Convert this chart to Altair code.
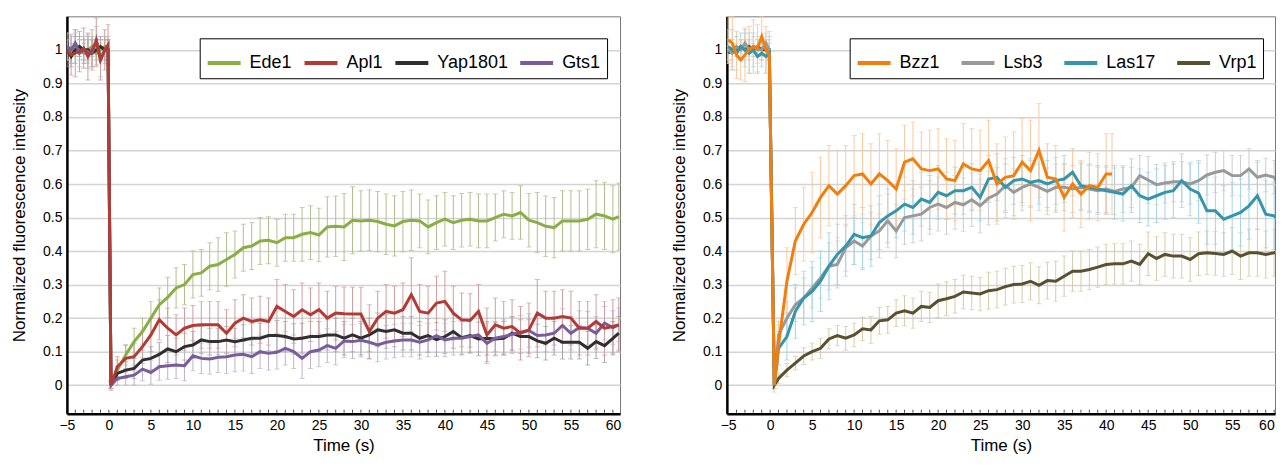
import altair as alt
import pandas as pd

# ---------------- time grids ----------------
PRE_T = [-5, -4.5, -4, -3.5, -3, -2.5, -2, -1.5, -1, -0.5, -0.1]
POST_T_LEFT = [0.25] + [float(i) for i in range(1, 61)] + [60.7]
POST_T_RIGHT = [0.5] + [float(i) for i in range(1, 61)] + [60.7]
POST_T_BZZ1 = [0.5] + [float(i) for i in range(1, 41)] + [40.7]

# ---------------- left panel ----------------
EDE1_PRE = [1.0, 0.99, 1.02, 1.0, 0.99, 1.0, 1.01, 0.99, 1.0, 1.01, 1.0]
EDE1_POST = [0, 0.045, 0.09, 0.13, 0.16, 0.2, 0.24, 0.262, 0.29, 0.3, 0.33,
             0.335, 0.355, 0.36, 0.375, 0.39, 0.41, 0.415, 0.43, 0.432, 0.425,
             0.44, 0.44, 0.45, 0.455, 0.448, 0.472, 0.474, 0.472, 0.492, 0.49,
             0.492, 0.488, 0.48, 0.475, 0.488, 0.492, 0.49, 0.472, 0.485, 0.495,
             0.485, 0.492, 0.495, 0.49, 0.49, 0.5, 0.51, 0.505, 0.515, 0.492,
             0.485, 0.474, 0.47, 0.49, 0.49, 0.49, 0.495, 0.51, 0.505, 0.495,
             0.503]
EDE1_SD = [0.03, 0.03, 0.04, 0.03, 0.03, 0.04, 0.03, 0.04, 0.03, 0.03, 0.03,
           0.01, 0.03, 0.03, 0.04, 0.04, 0.05, 0.05, 0.06, 0.06, 0.06, 0.07,
           0.07, 0.07, 0.08, 0.08, 0.07, 0.07, 0.07, 0.07, 0.07, 0.07,
           0.07, 0.07, 0.08, 0.08, 0.08, 0.09, 0.09, 0.1, 0.1, 0.09,
           0.09, 0.09, 0.09, 0.09, 0.09, 0.09, 0.08, 0.08, 0.08, 0.08,
           0.08, 0.08, 0.08, 0.08, 0.08, 0.07, 0.07, 0.07, 0.08, 0.08,
           0.09, 0.09, 0.09, 0.09, 0.09, 0.09, 0.09, 0.1, 0.1, 0.1,
           0.1]

APL1_PRE = [1.0, 0.985, 0.99, 0.995, 1.005, 0.98, 1.0, 1.025, 0.97, 1.0, 1.015]
APL1_POST = [0, 0.055, 0.08, 0.085, 0.115, 0.15, 0.195, 0.17, 0.15, 0.17, 0.178,
             0.18, 0.18, 0.18, 0.155, 0.185, 0.2, 0.19, 0.195, 0.19, 0.235,
             0.22, 0.205, 0.225, 0.21, 0.225, 0.2, 0.215, 0.213, 0.212, 0.212,
             0.16, 0.2, 0.22, 0.215, 0.225, 0.27, 0.22, 0.215, 0.245, 0.25,
             0.215, 0.195, 0.193, 0.22, 0.15, 0.18, 0.17, 0.175, 0.155, 0.165,
             0.215, 0.2, 0.2, 0.205, 0.2, 0.17, 0.17, 0.19, 0.17, 0.175,
             0.18]
APL1_SD = [0.05, 0.06, 0.07, 0.06, 0.06, 0.07, 0.06, 0.07, 0.06, 0.06, 0.06,
           0.015, 0.03, 0.04, 0.04, 0.05, 0.05, 0.06, 0.06, 0.06, 0.06, 0.06,
           0.07, 0.07, 0.07, 0.07, 0.07, 0.07, 0.07, 0.07, 0.07, 0.08,
           0.08, 0.08, 0.08, 0.08, 0.08, 0.08, 0.08, 0.08, 0.08, 0.08,
           0.08, 0.08, 0.08, 0.08, 0.08, 0.11, 0.08, 0.08, 0.08, 0.09,
           0.08, 0.08, 0.08, 0.08, 0.08, 0.08, 0.08, 0.08, 0.08, 0.08,
           0.1, 0.08, 0.08, 0.08, 0.08, 0.08, 0.08, 0.08, 0.08, 0.08,
           0.08]

YAP_PRE = [1.0, 0.98, 1.0, 1.01, 1.0, 1.0, 0.99, 1.0, 1.01, 1.0, 1.0]
YAP_POST = [0, 0.035, 0.045, 0.05, 0.075, 0.08, 0.092, 0.108, 0.1, 0.115, 0.12,
            0.135, 0.13, 0.13, 0.135, 0.13, 0.135, 0.14, 0.14, 0.148, 0.148,
            0.145, 0.138, 0.14, 0.145, 0.145, 0.15, 0.15, 0.14, 0.15, 0.14,
            0.15, 0.165, 0.16, 0.165, 0.155, 0.155, 0.14, 0.148, 0.136, 0.145,
            0.16, 0.142, 0.148, 0.138, 0.14, 0.138, 0.14, 0.155, 0.145, 0.145,
            0.132, 0.125, 0.14, 0.128, 0.128, 0.128, 0.11, 0.13, 0.118, 0.14,
            0.155]
YAP_SD = [0.03, 0.03, 0.04, 0.03, 0.03, 0.03, 0.04, 0.03, 0.03, 0.03, 0.03,
          0.01, 0.02, 0.025, 0.03, 0.03, 0.035, 0.035, 0.04, 0.04, 0.04, 0.04,
          0.04, 0.04, 0.04, 0.04, 0.04, 0.045, 0.045, 0.045, 0.045, 0.045,
          0.045, 0.045, 0.045, 0.045, 0.045, 0.045, 0.05, 0.05, 0.05, 0.05,
          0.05, 0.05, 0.05, 0.05, 0.05, 0.05, 0.05, 0.05, 0.05, 0.05,
          0.05, 0.05, 0.05, 0.05, 0.05, 0.05, 0.05, 0.05, 0.05, 0.05,
          0.05, 0.05, 0.05, 0.05, 0.05, 0.05, 0.05, 0.05, 0.05, 0.05,
          0.05]

GTS1_PRE = [1.01, 1.0, 1.02, 0.99, 1.0, 0.995, 0.99, 1.03, 0.97, 1.0, 1.0]
GTS1_POST = [0, 0.02, 0.025, 0.03, 0.048, 0.038, 0.055, 0.058, 0.06, 0.058, 0.088,
             0.08, 0.078, 0.083, 0.085, 0.09, 0.092, 0.085, 0.1, 0.095, 0.098,
             0.11, 0.1, 0.08, 0.1, 0.105, 0.118, 0.11, 0.132, 0.13, 0.134,
             0.128, 0.12, 0.128, 0.132, 0.135, 0.135, 0.128, 0.135, 0.148, 0.135,
             0.14, 0.14, 0.145, 0.15, 0.125, 0.14, 0.145, 0.152, 0.158, 0.163,
             0.148, 0.15, 0.155, 0.178, 0.155, 0.172, 0.17, 0.155, 0.185, 0.172,
             0.18]
GTS1_SD = [0.04, 0.04, 0.03, 0.04, 0.04, 0.05, 0.04, 0.04, 0.05, 0.04, 0.04,
           0.01, 0.02, 0.025, 0.03, 0.035, 0.035, 0.04, 0.04, 0.04, 0.045, 0.045,
           0.045, 0.045, 0.045, 0.05, 0.05, 0.05, 0.05, 0.05, 0.05, 0.05,
           0.05, 0.05, 0.06, 0.05, 0.05, 0.05, 0.05, 0.05, 0.05, 0.05,
           0.05, 0.05, 0.05, 0.05, 0.05, 0.05, 0.05, 0.05, 0.05, 0.05,
           0.05, 0.05, 0.05, 0.05, 0.06, 0.05, 0.05, 0.05, 0.05, 0.05,
           0.05, 0.05, 0.05, 0.05, 0.05, 0.05, 0.05, 0.05, 0.05, 0.05,
           0.05]

# ---------------- right panel ----------------
BZZ1_PRE = [1.03, 1.02, 0.985, 0.97, 0.985, 1.0, 1.01, 1.005, 1.04, 1.0, 0.985]
BZZ1_POST = [0, 0.12, 0.31, 0.43, 0.48, 0.515, 0.56, 0.595, 0.57, 0.595, 0.625,
             0.63, 0.60, 0.63, 0.61, 0.585, 0.665, 0.675, 0.645, 0.64, 0.645,
             0.615, 0.61, 0.66, 0.645, 0.64, 0.67, 0.60, 0.62, 0.625, 0.665,
             0.64, 0.70, 0.62, 0.615, 0.56, 0.60, 0.57, 0.595, 0.59, 0.63,
             0.63]
BZZ1_SD = [0.07, 0.08, 0.07, 0.06, 0.08, 0.07, 0.08, 0.07, 0.06, 0.07, 0.07,
           0.02, 0.06, 0.1, 0.1, 0.11, 0.12, 0.12, 0.12, 0.13, 0.12, 0.12,
           0.12, 0.12, 0.12, 0.12, 0.12, 0.11, 0.11, 0.11, 0.12, 0.12,
           0.12, 0.12, 0.12, 0.12, 0.12, 0.12, 0.12, 0.12, 0.13, 0.13,
           0.15, 0.14, 0.1, 0.1, 0.1, 0.1, 0.1, 0.1, 0.1, 0.12,
           0.12]

LSB3_PRE = [1.0, 0.99, 1.01, 1.0, 1.02, 1.0, 1.01, 1.0, 1.0, 1.02, 1.0]
LSB3_POST = [0, 0.15, 0.2, 0.24, 0.26, 0.29, 0.32, 0.355, 0.36, 0.41, 0.43,
             0.415, 0.445, 0.46, 0.49, 0.46, 0.50, 0.505, 0.51, 0.53, 0.54,
             0.53, 0.545, 0.538, 0.553, 0.535, 0.558, 0.57, 0.595, 0.575, 0.59,
             0.60, 0.59, 0.578, 0.59, 0.59, 0.585, 0.59, 0.585, 0.58, 0.585,
             0.578, 0.585, 0.59, 0.625, 0.612, 0.598, 0.603, 0.607, 0.607, 0.60,
             0.61, 0.627, 0.635, 0.64, 0.625, 0.625, 0.645, 0.62, 0.627, 0.62,
             0.59]
LSB3_SD = [0.03, 0.04, 0.03, 0.03, 0.04, 0.03, 0.03, 0.04, 0.03, 0.03, 0.03,
           0.01, 0.04, 0.05, 0.05, 0.06, 0.06, 0.06, 0.07, 0.07, 0.07, 0.07,
           0.07, 0.07, 0.08, 0.08, 0.08, 0.08, 0.08, 0.08, 0.08, 0.08,
           0.08, 0.08, 0.08, 0.08, 0.08, 0.08, 0.08, 0.08, 0.07, 0.07,
           0.07, 0.07, 0.07, 0.07, 0.07, 0.07, 0.07, 0.07, 0.07, 0.07,
           0.07, 0.07, 0.06, 0.06, 0.07, 0.06, 0.06, 0.06, 0.06, 0.06,
           0.06, 0.06, 0.06, 0.06, 0.06, 0.06, 0.06, 0.05, 0.05, 0.05,
           0.05]

LAS17_PRE = [1.01, 1.0, 0.99, 1.01, 1.0, 0.99, 1.0, 0.98, 0.99, 0.98, 0.99]
LAS17_POST = [0, 0.11, 0.145, 0.22, 0.26, 0.28, 0.31, 0.355, 0.39, 0.415, 0.45,
              0.44, 0.445, 0.485, 0.505, 0.52, 0.54, 0.53, 0.555, 0.545, 0.575,
              0.565, 0.58, 0.58, 0.59, 0.56, 0.615, 0.62, 0.59, 0.61, 0.615,
              0.605, 0.61, 0.60, 0.61, 0.615, 0.635, 0.595, 0.59, 0.585, 0.58,
              0.575, 0.57, 0.595, 0.565, 0.555, 0.565, 0.575, 0.58, 0.61, 0.585,
              0.573, 0.52, 0.52, 0.495, 0.505, 0.515, 0.535, 0.565, 0.51, 0.505,
              0.485]
LAS17_SD = [0.05, 0.06, 0.05, 0.04, 0.05, 0.06, 0.05, 0.05, 0.04, 0.05, 0.05,
            0.01, 0.05, 0.07, 0.08, 0.08, 0.09, 0.09, 0.1, 0.09, 0.09, 0.09,
            0.09, 0.09, 0.08, 0.08, 0.08, 0.08, 0.08, 0.08, 0.08, 0.08,
            0.07, 0.07, 0.07, 0.07, 0.07, 0.07, 0.07, 0.07, 0.07, 0.07,
            0.07, 0.07, 0.07, 0.07, 0.07, 0.07, 0.07, 0.07, 0.07, 0.07,
            0.08, 0.08, 0.08, 0.08, 0.08, 0.08, 0.08, 0.08, 0.08, 0.08,
            0.09, 0.1, 0.1, 0.1, 0.1, 0.1, 0.1, 0.1, 0.1, 0.1,
            0.1]

VRP1_PRE = [0.99, 1.0, 1.0, 1.01, 1.0, 1.01, 1.0, 1.01, 1.0, 1.0, 1.0]
VRP1_POST = [0, 0.02, 0.045, 0.066, 0.087, 0.1, 0.11, 0.138, 0.148, 0.14, 0.15,
             0.168, 0.165, 0.192, 0.195, 0.215, 0.222, 0.215, 0.235, 0.232, 0.252,
             0.258, 0.265, 0.278, 0.275, 0.272, 0.282, 0.285, 0.294, 0.3, 0.302,
             0.31, 0.298, 0.312, 0.31, 0.325, 0.34, 0.34, 0.345, 0.352, 0.36,
             0.362, 0.362, 0.37, 0.36, 0.392, 0.378, 0.39, 0.385, 0.385, 0.375,
             0.392, 0.395, 0.393, 0.39, 0.4, 0.385, 0.395, 0.395, 0.39, 0.395,
             0.4]
VRP1_SD = [0.02, 0.03, 0.02, 0.02, 0.03, 0.02, 0.02, 0.02, 0.03, 0.02, 0.02,
           0.01, 0.015, 0.02, 0.02, 0.025, 0.025, 0.03, 0.03, 0.03, 0.035, 0.035,
           0.035, 0.04, 0.04, 0.04, 0.04, 0.045, 0.045, 0.045, 0.045, 0.05,
           0.05, 0.05, 0.05, 0.05, 0.05, 0.055, 0.055, 0.055, 0.055, 0.055,
           0.055, 0.055, 0.055, 0.06, 0.06, 0.06, 0.06, 0.06, 0.06, 0.06,
           0.06, 0.06, 0.06, 0.06, 0.065, 0.065, 0.065, 0.065, 0.065, 0.065,
           0.065, 0.065, 0.065, 0.065, 0.07, 0.07, 0.07, 0.07, 0.07, 0.07,
           0.07]

LEFT_NAMES = ["Ede1", "Apl1", "Yap1801", "Gts1"]
LEFT_COLORS = ["#8aae46", "#b23b36", "#2f2f2f", "#7a5b9c"]
LEFT_ERR = ["#b3be8f", "#cf9e9e", "#a3a3a3", "#bdb3cf"]
RIGHT_NAMES = ["Bzz1", "Lsb3", "Las17", "Vrp1"]
RIGHT_COLORS = ["#f07f0f", "#999999", "#3495ab", "#59502f"]
RIGHT_ERR = ["#f9c9a0", "#cccccc", "#a3d5e4", "#d5cca9"]

X_TICKS = list(range(-5, 61, 5))
MINOR_TICKS = list(range(-4, 61))
Y_TICKS = [0, 0.1, 0.2, 0.3, 0.4, 0.5, 0.6, 0.7, 0.8, 0.9, 1]

FONT = "Liberation Sans"
H = 398


def frame(name, times, pre, post, sd, ecolor):
    vals = pre + post
    assert len(times) == len(vals) == len(sd), (name, len(times), len(vals), len(sd))
    return pd.DataFrame({
        "series": name, "t": times, "v": vals,
        "lo": [a - b for a, b in zip(vals, sd)],
        "hi": [a + b for a, b in zip(vals, sd)],
        "ecolor": ecolor,
    })


left_df = pd.concat([
    frame("Ede1", PRE_T + POST_T_LEFT, EDE1_PRE, EDE1_POST, EDE1_SD, LEFT_ERR[0]),
    frame("Yap1801", PRE_T + POST_T_LEFT, YAP_PRE, YAP_POST, YAP_SD, LEFT_ERR[2]),
    frame("Gts1", PRE_T + POST_T_LEFT, GTS1_PRE, GTS1_POST, GTS1_SD, LEFT_ERR[3]),
    frame("Apl1", PRE_T + POST_T_LEFT, APL1_PRE, APL1_POST, APL1_SD, LEFT_ERR[1]),
], ignore_index=True)

right_df = pd.concat([
    frame("Vrp1", PRE_T + POST_T_RIGHT, VRP1_PRE, VRP1_POST, VRP1_SD, RIGHT_ERR[3]),
    frame("Lsb3", PRE_T + POST_T_RIGHT, LSB3_PRE, LSB3_POST, LSB3_SD, RIGHT_ERR[1]),
    frame("Las17", PRE_T + POST_T_RIGHT, LAS17_PRE, LAS17_POST, LAS17_SD, RIGHT_ERR[2]),
    frame("Bzz1", PRE_T + POST_T_BZZ1, BZZ1_PRE, BZZ1_POST, BZZ1_SD, RIGHT_ERR[0]),
], ignore_index=True)


def panel(df, names, colors, xdomain, width, legend_x, col_pad, flush):
    xscale = alt.Scale(domain=xdomain, nice=False, zero=False)
    yscale = alt.Scale(domain=[-0.085, 1.1], nice=False, zero=False)
    xaxis = alt.Axis(values=X_TICKS, title="Time (s)", grid=False, ticks=False,
                     domainColor="black", domainWidth=2.5, labelFontSize=14,
                     labelPadding=5, labelFont=FONT, labelColor="black",
                     titleFont=FONT, titleFontSize=17, titleFontWeight="normal",
                     titleColor="black", titlePadding=5, labelFlush=flush,
                     labelOverlap=False)
    yaxis = alt.Axis(values=Y_TICKS, format=".1~f",
                     title="Normalized fluorescence intensity",
                     grid=True, gridColor="#d4d4d4", gridWidth=1.5, ticks=False,
                     domainColor="black", domainWidth=2.5, labelFontSize=14,
                     labelPadding=5, labelFont=FONT, labelColor="black",
                     titleFont=FONT, titleFontSize=17, titleFontWeight="normal",
                     titleColor="black", titlePadding=14)
    X = alt.X("t:Q", scale=xscale, axis=xaxis)
    base = alt.Chart(df)
    ecol = alt.Color("ecolor:N", scale=None)
    rules = base.mark_rule(strokeWidth=1, clip=True).encode(
        x=X, y=alt.Y("lo:Q", scale=yscale, axis=yaxis), y2="hi:Q", color=ecol)
    cap_lo = base.mark_tick(orient="horizontal", size=5, thickness=1, clip=True).encode(
        x=X, y=alt.Y("lo:Q", scale=yscale, axis=yaxis), color=ecol)
    cap_hi = base.mark_tick(orient="horizontal", size=5, thickness=1, clip=True).encode(
        x=X, y=alt.Y("hi:Q", scale=yscale, axis=yaxis), color=ecol)
    lines = base.mark_line(strokeWidth=3, clip=True).encode(
        x=X, y=alt.Y("v:Q", scale=yscale, axis=yaxis),
        color=alt.Color("series:N", scale=alt.Scale(domain=names, range=colors),
                        legend=alt.Legend(
                            orient="none", legendX=legend_x, legendY=22,
                            direction="horizontal", title=None,
                            symbolType="stroke", symbolSize=1089,
                            symbolStrokeWidth=4, labelFontSize=18,
                            labelFont=FONT, labelColor="black", labelOffset=7,
                            columnPadding=col_pad, padding=6,
                            strokeColor="black", fillColor="white")),
        detail="series:N")
    minor = alt.Chart(pd.DataFrame({"t": MINOR_TICKS})).mark_tick(
        orient="vertical", size=3, thickness=1, color="black").encode(
        x=X, y=alt.value(H - 2.5))
    return alt.layer(rules, cap_lo, cap_hi, lines, minor).resolve_scale(
        color="independent").properties(width=width, height=H)


left = panel(left_df, LEFT_NAMES, LEFT_COLORS, [-5, 60.85], 554, 133, 4, False)
right = panel(right_df, RIGHT_NAMES, RIGHT_COLORS, [-5.15, 60.1], 549, 123, 13, 1)

chart = alt.hconcat(left, right, spacing=48).properties(
    padding={"left": 2, "top": 7, "right": 0, "bottom": 0}
).configure_view(stroke="#777777", strokeWidth=1)

chart.save("out.html", embed_options={"renderer": "svg", "actions": False})
